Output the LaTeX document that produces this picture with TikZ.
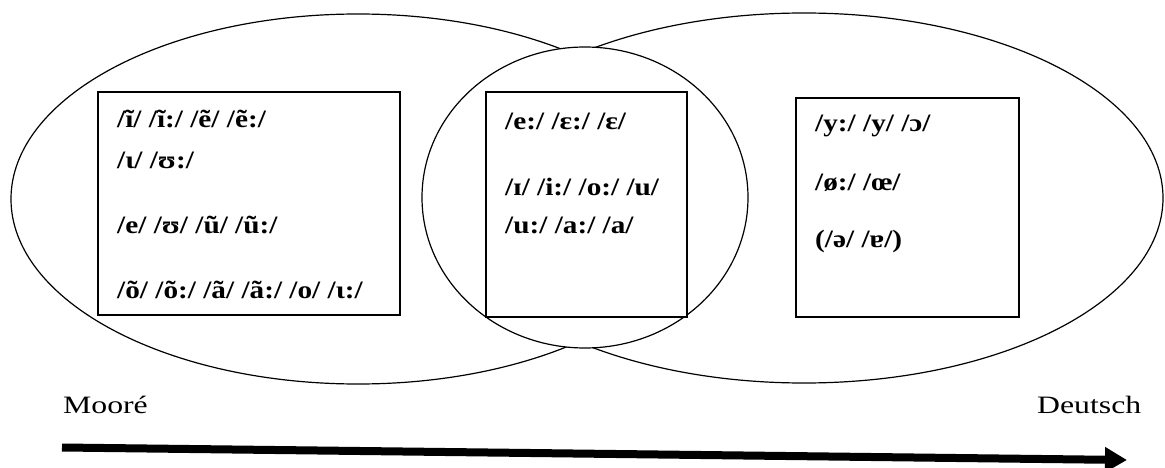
\documentclass[tikz,border=0pt]{standalone}
\usepackage{fontspec}
\setmainfont{Liberation Serif}
\newcommand\hstretchtext[1]{\scalebox{1.17}[1]{#1}}
\newcommand\hstretchlabel[1]{\scalebox{1.27}[1]{#1}}
\usetikzlibrary{shapes.geometric,arrows.meta}
\begin{document}
\begin{tikzpicture}[x=1pt,y=-1pt,
  setshape/.style={ellipse,draw,line width=1.2pt,inner sep=0pt},
  box/.style={draw,line width=1.2pt,fill=white,inner sep=0pt},
  ipa/.style={anchor=base west,inner sep=0pt,font=\bfseries\fontsize{25}{29}\selectfont},
  lang/.style={anchor=base west,inner sep=0pt,font=\fontsize{25}{29}\selectfont}]
\useasboundingbox (0,0) rectangle (1165,468);
% sets
\node[setshape,minimum width=694pt,minimum height=370pt] (moore) at (358,199) {};
\node[setshape,minimum width=718pt,minimum height=370pt] (deutsch) at (804,198) {};
\node[setshape,fill=white,minimum width=326pt,minimum height=301pt] (common) at (585,197.5) {};
% boxes
\node[box,minimum width=302pt,minimum height=223pt] (lbox) at (249,203.5) {};
\node[box,minimum width=201pt,minimum height=225pt] (mbox) at (586.5,204.5) {};
\node[box,minimum width=223pt,minimum height=219pt] (rbox) at (907.5,207.5) {};
% left texts
\node[ipa] (l1) at (117,128) {\hstretchtext{/ĩ/ /ĩ:/ /ẽ/ /ẽ:/}};
\node[ipa] (l2) at (117,168) {\hstretchtext{/ɩ/ /ʊ:/}};
\node[ipa] (l3) at (117,233) {\hstretchtext{/e/ /ʊ/ /ũ/ /ũ:/}};
\node[ipa] (l4) at (117,298) {\hstretchtext{/õ/ /õ:/ /ã/ /ã:/ /o/ /ɩ:/}};
% middle texts
\node[ipa] (m1) at (505,130) {\hstretchtext{/e:/ /ɛ:/ /ɛ/}};
\node[ipa] (m2) at (505,195) {\hstretchtext{/ɪ/ /i:/ /o:/ /u/}};
\node[ipa] (m3) at (505,233) {\hstretchtext{/u:/ /a:/ /a/}};
% right texts
\node[ipa] (r1) at (815,132) {\hstretchtext{/y:/ /y/ /ɔ/}};
\node[ipa] (r2) at (815,190) {\hstretchtext{/ø:/ /œ/}};
\node[ipa] (r3) at (815,247) {\hstretchtext{(/ə/ /ɐ/)}};
% language labels
\node[lang] (lm) at (63,413) {\hstretchlabel{Mooré}};
\node[lang] (ld) at (1037,413) {\hstretchlabel{Deutsch}};
% arrow
\coordinate (a0) at (62,447.5);
\coordinate (a1) at (1127,460);
\draw[line width=8pt,-{Triangle[length=22pt,width=24pt]}] (a0) -- (a1);
\end{tikzpicture}
\end{document}
